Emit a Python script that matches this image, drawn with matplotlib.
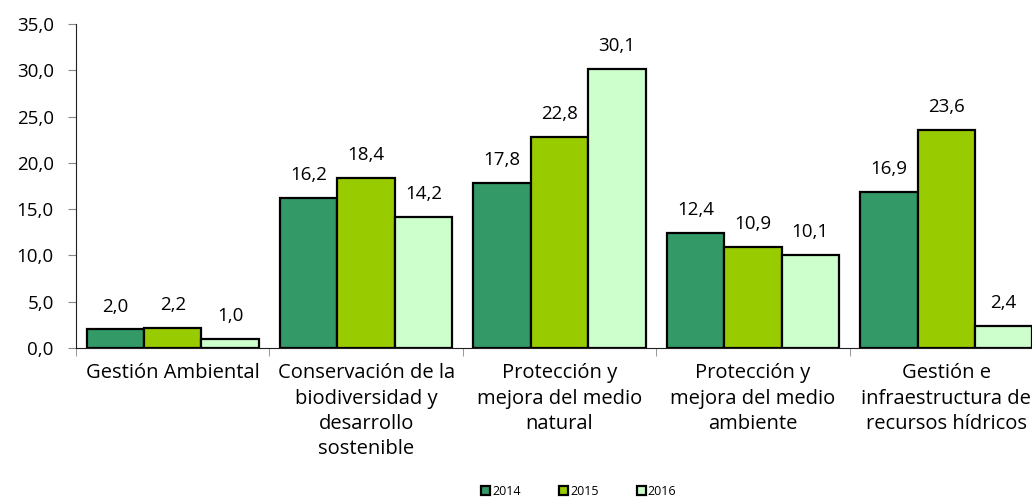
import matplotlib
matplotlib.use('Agg')
import matplotlib.pyplot as plt
import numpy as np

categorias = ['Gestión Ambiental',
              'Conservación de la\nbiodiversidad y\ndesarrollo\nsostenible',
              'Protección y\nmejora del medio\nnatural',
              'Protección y\nmejora del medio\nambiente',
              'Gestión e\ninfraestructura de\nrecursos hídricos']
anios = ['2014', '2015', '2016']
v2014 = [2.0, 16.2, 17.8, 12.4, 16.9]
v2015 = [2.2, 18.4, 22.8, 10.9, 23.6]
v2016 = [1.0, 14.2, 30.1, 10.1, 2.4]
colores = ['#339966', '#99CC00', '#CCFFCC']

plt.rcParams['font.family'] = ['Open Sans', 'DejaVu Sans']
fs = 13.5

fig = plt.figure(figsize=(10.32, 4.97), dpi=100)
# the plot area runs slightly past the right edge, as in the original
ax = fig.add_axes([76 / 1032, 1 - 348 / 497, (1043 - 76) / 1032, (348 - 24) / 497])

ind = np.arange(len(categorias))
width = 0.297
series = [v2014, v2015, v2016]
for i, (vals, col, lab) in enumerate(zip(series, colores, anios)):
    bars = ax.bar(ind + (i - 1) * width, vals, width, color=col, edgecolor='black',
                  linewidth=1.6, label=lab, zorder=3)
    for b, v in zip(bars, vals):
        ax.annotate('{:.1f}'.format(v).replace('.', ','),
                    (b.get_x() + b.get_width() / 2, b.get_height()),
                    xytext=(0, 10), textcoords='offset points',
                    ha='center', va='bottom', fontsize=fs)

ax.set_xlim(-0.5, len(categorias) - 0.5)
ax.set_ylim(0, 35)
ax.set_yticks(np.arange(0, 36, 5))
ax.set_yticklabels(['{:.1f}'.format(t).replace('.', ',') for t in np.arange(0, 36, 5)],
                   fontsize=fs)

ax.set_xticks(ind)
ax.set_xticklabels(categorias, fontsize=14.5, linespacing=1.35, va='top')
ax.tick_params(axis='x', length=0, pad=11)
ax.set_xticks(np.arange(-0.5, len(categorias), 1), minor=True)
ax.tick_params(axis='x', which='minor', length=6, color='#888888', direction='out')
ax.tick_params(axis='y', length=6, color='#888888', pad=10)

for s in ['top', 'right']:
    ax.spines[s].set_visible(False)
ax.spines['left'].set_color('#202020')
ax.spines['bottom'].set_color('#202020')

fig.legend(loc='lower center', bbox_to_anchor=(0.561, -0.025), ncol=3, frameon=False,
           fontsize=9, handlelength=0.7, handleheight=0.7, handletextpad=0.15,
           columnspacing=3.1)

fig.savefig('out.png', dpi=100)
